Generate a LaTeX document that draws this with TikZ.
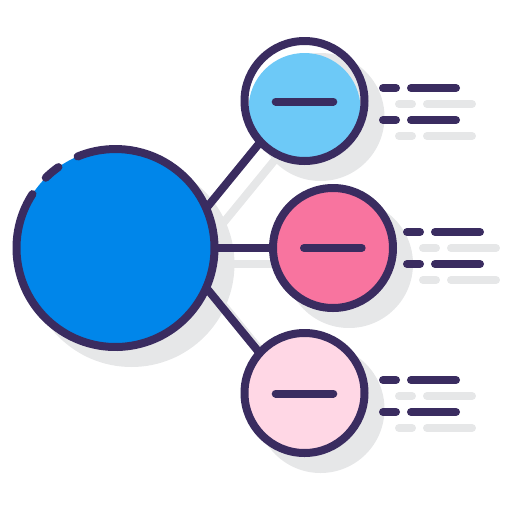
\documentclass[tikz,border=0pt]{standalone}
\definecolor{ink}{HTML}{3A2C60}
\definecolor{shadowgray}{HTML}{E6E7E8}
\definecolor{bigblue}{HTML}{0086EA}
\definecolor{lightblue}{HTML}{6DC9F7}
\definecolor{pinkfill}{HTML}{F8749F}
\definecolor{palepink}{HTML}{FFD7E5}
\begin{document}
\begin{tikzpicture}[x=1pt,y=-1pt,
 ink/.style={draw=ink,line width=8pt,line cap=round},
 shade/.style={draw=shadowgray,line width=8pt,line cap=round},
 hub/.style={circle,minimum size=198pt,inner sep=0pt,outer sep=0pt},
 leaf/.style={circle,minimum size=120pt,inner sep=0pt,outer sep=0pt}]
\useasboundingbox (0,0) rectangle (512,512);
\node[hub] (big) at (115.5,248) {};
\node[leaf] (top) at (304.5,101) {};
\node[leaf] (mid) at (333,248) {};
\node[leaf] (bot) at (304.5,393) {};
\coordinate (t1) at (201.7,213.8); \coordinate (t2) at (264.3,137.2);
\coordinate (b1) at (201.7,282.2); \coordinate (b2) at (264.3,358.8);
% shadows
\fill[shadowgray] ([shift={(16,16)}]big.center) circle[radius=103];
\fill[shadowgray] ([shift={(16,16)}]top.center) circle[radius=64];
\fill[shadowgray] ([shift={(16,16)}]mid.center) circle[radius=64];
\fill[shadowgray] ([shift={(16,16)}]bot.center) circle[radius=64];
\draw[shade] ([shift={(16,16)}]t1) -- ([shift={(16,16)}]t2);
\draw[shade] ([shift={(16,16)}]b1) -- ([shift={(16,16)}]b2);
\draw[shade] ([shift={(16,16)}]big.center) -- ([shift={(16,16)}]mid.center);
% gray text dashes (shadows of the dark ones)
\foreach \y in {104,136,396,428}{
  \draw[shade] (399,\y) -- (412,\y);
  \draw[shade] (427,\y) -- (472,\y);
}
\foreach \y in {248,280}{
  \draw[shade] (423,\y) -- (436,\y);
  \draw[shade] (451,\y) -- (496,\y);
}
% connectors
\draw[ink] (t1) -- (t2);
\draw[ink] (b1) -- (b2);
\draw[ink] (big.center) -- (mid.center);
% big circle
\fill[bigblue] (big.center) circle[radius=99];
\draw[ink] (big.center) ++(-147:99) arc[start angle=-147,end angle=-472.5,radius=99];
\draw[ink] (big.center) ++(-125.2:99) arc[start angle=-125.2,end angle=-134.8,radius=99];
% top circle
\begin{scope}
\clip (top.center) circle[radius=60];
\fill[lightblue] ([shift={(0,8)}]top.center) circle[radius=56];
\end{scope}
\draw[ink] (top.center) circle[radius=60];
% middle circle
\fill[pinkfill] (mid.center) circle[radius=60];
\draw[ink] (mid.center) circle[radius=60];
% bottom circle
\fill[palepink] (bot.center) circle[radius=60];
\draw[ink] (bot.center) circle[radius=60];
% minus bars
\draw[ink] (275.7,101.5) -- (333.3,101.5);
\draw[ink] (304,248) -- (361.7,248);
\draw[ink] (275.7,393.5) -- (333.3,393.5);
% dark text dashes
\foreach \y in {88,120,380,412}{
  \draw[ink] (383,\y) -- (396,\y);
  \draw[ink] (411,\y) -- (456,\y);
}
\foreach \y in {232,264}{
  \draw[ink] (407,\y) -- (420,\y);
  \draw[ink] (435,\y) -- (480,\y);
}
\end{tikzpicture}
\end{document}
